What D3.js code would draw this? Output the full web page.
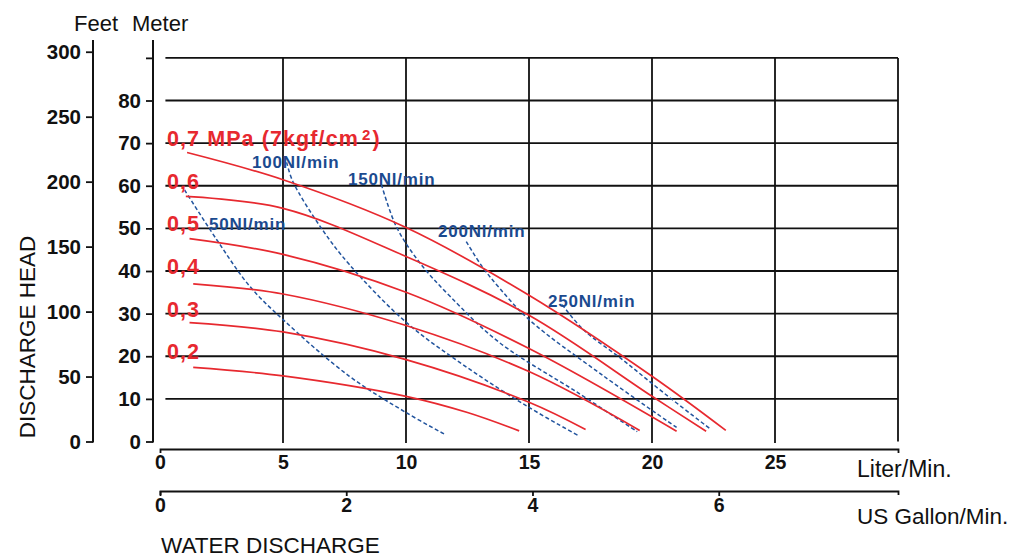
<!DOCTYPE html>
<html>
<head>
<meta charset="utf-8">
<script src="https://cdn.jsdelivr.net/npm/d3@7"></script>
<style>
  html, body { margin: 0; padding: 0; background: #fff; }
  svg { display: block; }
  text { font-family: "Liberation Sans", Arial, sans-serif; }
</style>
</head>
<body>
<svg id="chart" width="1011" height="559"></svg>
<script>
// ---- axis tick values ----
const literTicks  = [0, 5, 10, 15, 20, 25];
const gallonTicks = [0, 2, 4, 6];
const meterTicks  = [0, 10, 20, 30, 40, 50, 60, 70, 80, 90];
const feetTicks   = [0, 50, 100, 150, 200, 250, 300];

// ---- pump curves at constant air pressure: [flow L/min, head m] ----
const pressureLabels = ["0,7", "0,6", "0,5", "0,4", "0,3", "0,2"];
const pressureMPa    = [0.7, 0.6, 0.5, 0.4, 0.3, 0.2];
const head07 = [[1.1, 67.8], [5, 61.4], [10, 50.2], [15, 34.3], [20, 15.3], [23, 2.6]];
const head06 = [[1.05, 57.5], [5, 54.7], [10, 43.4], [15, 29.6], [20, 10.6], [22.2, 2.4]];
const head05 = [[1.2, 47.6], [5, 43.9], [10, 35.0], [15, 21.8], [21, 2.4]];
const head04 = [[1.35, 37.0], [5, 34.6], [10, 27.2], [15, 16.4], [19.5, 2.6]];
const head03 = [[1.2, 27.9], [5, 25.7], [10, 19.2], [15, 9.2], [17.3, 2.8]];
const head02 = [[1.35, 17.4], [5, 15.4], [10, 10.6], [12.5, 6.8], [14.6, 2.5]];

// ---- air consumption curves: [flow L/min, head m] ----
const airLabels = ["50Nl/min", "100Nl/min", "150Nl/min", "200Nl/min", "250Nl/min"];
const air50  = [[1.0, 59.0], [2.3, 47.4], [3.65, 36.4], [5, 28.6], [7.7, 15.3], [10, 6.8], [11.6, 1.6]];
const air100 = [[5.15, 65.5], [5.4, 61.0], [6.6, 49.7], [7.7, 41.5], [10, 28.0], [12.5, 17.3], [15, 8.0], [17, 1.4]];
const air150 = [[9.0, 60.3], [9.6, 50.5], [10.55, 42.0], [11.8, 34.0], [13.8, 23.2], [17, 11.4], [19.4, 2.3]];
const air200 = [[12.45, 46.9], [13.1, 41.0], [13.8, 36.0], [15, 28.6], [18, 15.5], [21, 3.3]];
const air250 = [[16.35, 32.1], [17.2, 26.3], [18.8, 19.2], [20.5, 11.3], [22.4, 2.8]];

const pressureSeries = [head07, head06, head05, head04, head03, head02];
const airSeries = [air50, air100, air150, air200, air250];

const LITERS_PER_GALLON = 3.78541;
const METERS_PER_FOOT = 0.3048;

const RED = "#e7292f";
const BLUE = "#22549e";
const BLUE_TEXT = "#1b4a8f";

const svg = d3.select("#chart");

// ---- scales ----
const x = d3.scaleLinear().domain([0, 30]).range([160, 898]);
const xGal = d3.scaleLinear().domain([0, 30 / LITERS_PER_GALLON]).range([160, 898]);
const y = d3.scaleLinear().domain([0, 90]).range([441.5, 441.5 - 90 * 4.2625]);
const yFeet = d3.scaleLinear().domain([0, 90 / METERS_PER_FOOT]).range(y.range());

// ---- grid ----
const grid = svg.append("g").attr("stroke", "#111").attr("stroke-width", 1.8);
grid.selectAll("line.h").data(meterTicks.filter(d => d > 0)).join("line")
  .attr("x1", x(0.22)).attr("x2", x(30))
  .attr("y1", d => y(d)).attr("y2", d => y(d));
grid.selectAll("line.v").data(literTicks.filter(d => d > 0)).join("line")
  .attr("x1", d => x(d)).attr("x2", d => x(d))
  .attr("y1", y(90)).attr("y2", y(-0.35));
grid.append("line")
  .attr("x1", x(30)).attr("x2", x(30))
  .attr("y1", y(90)).attr("y2", y(0));

// ---- vertical axes (feet and meter) ----
function styleAxis(g) {
  g.select(".domain").remove();
  g.selectAll(".tick line").attr("stroke", "#111").attr("stroke-width", 1.8);
  g.selectAll(".tick text")
    .attr("fill", "#111")
    .style("font-size", "20.5px")
    .style("font-weight", "bold")
    .style("font-family", "'Liberation Sans', Arial, sans-serif");
}
const axisTop = 40;

const feetAxis = svg.append("g").attr("transform", "translate(93,0)")
  .call(d3.axisLeft(yFeet).tickValues(feetTicks).tickSize(7).tickPadding(5));
styleAxis(feetAxis);
feetAxis.append("line").attr("x1", 0).attr("x2", 0)
  .attr("y1", axisTop).attr("y2", y(0) + 1)
  .attr("stroke", "#111").attr("stroke-width", 2);

const meterAxis = svg.append("g").attr("transform", "translate(153,0)")
  .call(d3.axisLeft(y).tickValues(meterTicks).tickSize(7).tickPadding(5)
    .tickFormat(d => d === 90 ? "" : d));
styleAxis(meterAxis);
meterAxis.append("line").attr("x1", 0).attr("x2", 0)
  .attr("y1", axisTop).attr("y2", y(0) + 1)
  .attr("stroke", "#111").attr("stroke-width", 2);

// ---- horizontal axes (liter and gallon) ----
function styleBottom(g) {
  g.select(".domain").attr("stroke", "#111").attr("stroke-width", 1.8);
  g.selectAll(".tick line").attr("stroke", "#111").attr("stroke-width", 1.8);
  g.selectAll(".tick text")
    .attr("fill", "#111")
    .style("font-size", "19.5px")
    .style("font-weight", "bold")
    .style("font-family", "'Liberation Sans', Arial, sans-serif");
}
const literAxis = svg.append("g").attr("transform", "translate(0,449)")
  .call(d3.axisBottom(x).tickValues(literTicks).tickSizeInner(0).tickSizeOuter(4).tickPadding(6));
styleBottom(literAxis);

const gallonAxis = svg.append("g").attr("transform", "translate(0,491)")
  .call(d3.axisBottom(xGal).tickValues(gallonTicks).tickSizeInner(5).tickSizeOuter(4).tickPadding(2));
styleBottom(gallonAxis);

// ---- curves ----
const line = d3.line()
  .x(d => x(d[0])).y(d => y(d[1]))
  .curve(d3.curveCatmullRom.alpha(0.5));

svg.append("g").selectAll("path").data(airSeries).join("path")
  .attr("d", line)
  .attr("fill", "none")
  .attr("stroke", BLUE)
  .attr("stroke-width", 1.5)
  .attr("stroke-dasharray", "4,2.5");

svg.append("g").selectAll("path").data(pressureSeries).join("path")
  .attr("d", line)
  .attr("fill", "none")
  .attr("stroke", RED)
  .attr("stroke-width", 1.7);

// ---- pressure labels, placed at the head that matches each pressure ----
const labelFont = "'Liberation Sans', Arial, sans-serif";
const redLabels = svg.append("g")
  .attr("fill", RED)
  .style("font-weight", "bold")
  .style("font-size", "21.5px")
  .style("letter-spacing", "1.1px");
pressureLabels.forEach((lab, i) => {
  const t = redLabels.append("text")
    .attr("x", x(0.28))
    .attr("y", y(pressureMPa[i] * 100) + 3)
    .style("font-family", labelFont);
  if (i === 0) {
    t.append("tspan").text(lab + " MPa (7kgf/cm");
    t.append("tspan").attr("dx", 3).attr("dy", -6).style("font-size", "15px").text("2");
    t.append("tspan").attr("dx", 1).attr("dy", 6).text(")");
  } else {
    t.text(lab);
  }
});

// ---- air consumption labels ----
const airLabelAnchors = [[1.99, 49.6], [3.74, 64.2], [7.64, 60.2], [11.3, 48.0], [15.77, 31.6]];
svg.append("g").selectAll("text").data(airLabels).join("text")
  .attr("x", (d, i) => x(airLabelAnchors[i][0]))
  .attr("y", (d, i) => y(airLabelAnchors[i][1]))
  .attr("fill", BLUE_TEXT)
  .style("font-family", labelFont)
  .style("font-weight", "bold")
  .style("font-size", "17px")
  .style("letter-spacing", "0.8px")
  .text(d => d);

// ---- titles ----
const title = svg.append("g").attr("fill", "#111").style("font-size", "22px");
title.append("text").attr("x", 74).attr("y", 31).text("Feet");
title.append("text").attr("x", 132).attr("y", 31).text("Meter");
title.append("text").attr("x", 857).attr("y", 477).style("font-size", "23px").text("Liter/Min.");
title.append("text").attr("x", 857).attr("y", 524).style("font-size", "22.5px").text("US Gallon/Min.");
title.append("text").attr("x", 161).attr("y", 553).style("font-size", "22.5px").text("WATER DISCHARGE");
title.append("text")
  .attr("transform", "translate(35,337) rotate(-90)")
  .attr("text-anchor", "middle")
  .style("font-size", "22.5px")
  .text("DISCHARGE HEAD");
</script>
</body>
</html>
